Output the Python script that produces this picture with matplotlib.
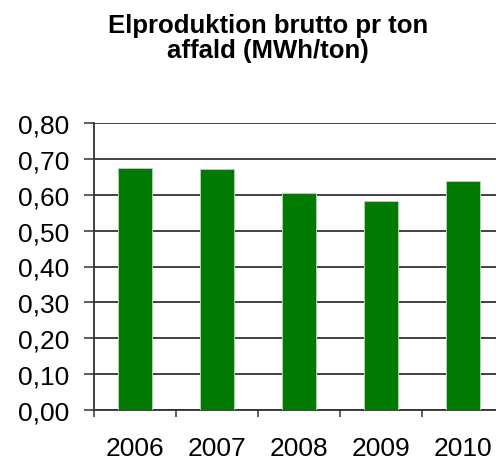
import matplotlib
matplotlib.use("Agg")
import matplotlib.pyplot as plt
from matplotlib.ticker import FixedLocator, FuncFormatter

# Data
years = ["2006", "2007", "2008", "2009", "2010"]
mwh_per_ton = [0.675, 0.672, 0.604, 0.583, 0.637]
title_lines = ["Elproduktion brutto pr ton", "affald (MWh/ton)"]
y_ticks = [0.0, 0.1, 0.2, 0.3, 0.4, 0.5, 0.6, 0.7, 0.8]

plt.rcParams['font.family'] = ['Liberation Sans', 'DejaVu Sans']

fig = plt.figure(figsize=(4.96, 4.64), dpi=100)
fig.patch.set_facecolor('white')
ax = fig.add_axes([94 / 496, 1 - 411 / 464, 410 / 496, 287 / 464])

x = list(range(len(years)))
ax.bar(x, mwh_per_ton, width=0.41, color='#007A00', edgecolor='#a8d8a8', linewidth=0.7, zorder=3)

ax.set_xlim(-0.5, len(years) - 0.5)
ax.set_ylim(0, 0.8)

# y axis: comma decimals, gridlines
ax.set_yticks(y_ticks)
ax.yaxis.set_major_formatter(FuncFormatter(lambda v, p: f"{v:.2f}".replace('.', ',')))
ax.yaxis.grid(True, color='#333333', linewidth=1.3, zorder=1)
ax.tick_params(axis='y', length=7.5, width=1.1, color='#333333', pad=10, labelsize=19)

# x axis: labels at centres, tick marks between categories
ax.set_xticks(x)
ax.set_xticklabels(years)
ax.tick_params(axis='x', which='major', length=0, pad=19, labelsize=19)
ax.xaxis.set_minor_locator(FixedLocator([i - 0.5 for i in range(len(years) + 1)]))
ax.tick_params(axis='x', which='minor', length=5, width=1.1, color='#333333')

for side in ['top', 'right']:
    ax.spines[side].set_visible(False)
ax.spines['left'].set_color('#333333')
ax.spines['left'].set_linewidth(1.3)
ax.spines['bottom'].set_color('#333333')
ax.spines['bottom'].set_linewidth(1.3)
ax.set_axisbelow(True)

fig.text(0.541, 1 - 33 / 464, title_lines[0], ha='center', va='baseline',
         fontsize=18.5, fontweight='bold')
fig.text(0.541, 1 - 58 / 464, title_lines[1], ha='center', va='baseline',
         fontsize=18.5, fontweight='bold')

fig.savefig('out.png', dpi=100, facecolor='white')
